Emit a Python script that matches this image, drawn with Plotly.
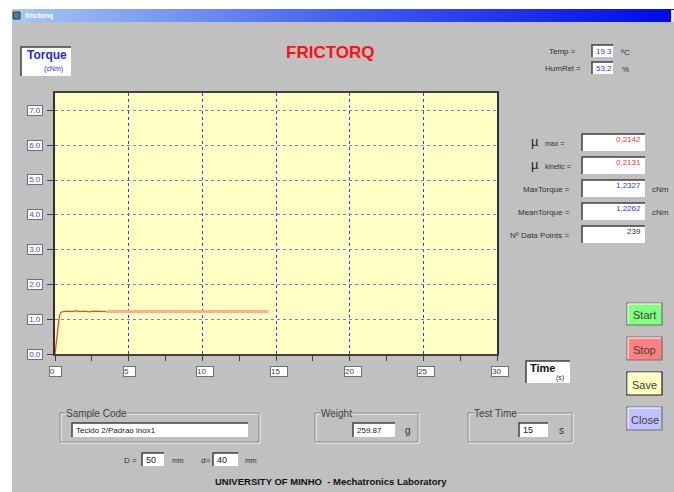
import plotly.graph_objects as go

# ---------------- data ----------------
time_s = [0, 0.08, 0.17, 0.25, 0.33, 0.42, 0.55, 0.8, 1.1, 1.4, 1.7, 2.0, 2.3,
          2.6, 2.9, 3.2, 3.5, 3.8, 5.0, 7.0, 9.0, 11.0, 13.0, 14.5]
torque = [0, 0.25, 0.62, 0.95, 1.13, 1.20, 1.22, 1.23, 1.22, 1.24, 1.22, 1.23, 1.21,
          1.23, 1.22, 1.23, 1.22, 1.22, 1.22, 1.23, 1.22, 1.22, 1.22, 1.22]
split_idx = 16  # where the lighter trace segment begins

x_ticks = [0, 5, 10, 15, 20, 25, 30]
x_tick_labels = ["0", "5", "10", "15", "20", "25", "30"]
y_ticks = [0, 1, 2, 3, 4, 5, 6, 7]
y_tick_labels = ["0.0", "1.0", "2.0", "3.0", "4.0", "5.0", "6.0", "7.0"]

temp = "19.3"
humrel = "53.2"
mu_max = "0,2142"
mu_kinetic = "0,2131"
max_torque = "1,2327"
mean_torque = "1,2262"
n_points = "239"
sample_code = "Tecido 2/Padrao inox1"
weight = "259.87"
test_time = "15"
D_mm = "50"
d_mm = "40"

# ---------------- layout helpers ----------------
W, H = 674, 492
GRAY = "#c0c0c0"
FONT = "Liberation Sans, Arial, sans-serif"
shapes = []
anns = []


def rect(x0, y0, x1, y1, fill, line=None, lw=0):
    shapes.append(dict(type="rect", xref="x2", yref="y2", x0=x0, y0=y0, x1=x1, y1=y1,
                       fillcolor=fill, line=dict(color=line or fill, width=lw),
                       layer="above"))


def path(p, color, lw=1):
    shapes.append(dict(type="path", xref="x2", yref="y2", path=p,
                       line=dict(color=color, width=lw), layer="above"))


def text(x, y, s, size=9, color="#202020", xanchor="left", bold=False, bg=None):
    a = dict(xref="x2", yref="y2", x=x, y=y, text=("<b>%s</b>" % s) if bold else s,
             showarrow=False, xanchor=xanchor, yanchor="middle",
             font=dict(family=FONT, size=size, color=color))
    if bg:
        a["bgcolor"] = bg
        a["borderpad"] = 0
    anns.append(a)


def sunken(x0, y0, x1, y1):
    rect(x0, y0, x1, y1, "white")
    path("M %s,%s L %s,%s L %s,%s" % (x0, y1, x0, y0, x1, y0), "#404040", 1.5)


def button(x0, y0, x1, y1, fill, label, focus=False):
    rect(x0, y0, x1, y1, fill, "#707070" if not focus else "#202020", 1.2)
    path("M %s,%s L %s,%s L %s,%s" % (x0 + 1, y1 - 1, x0 + 1, y0 + 1, x1 - 1, y0 + 1), "white", 1)
    text((x0 + x1) / 2, (y0 + y1) / 2 + 1, label, size=11, color="#404040", xanchor="center")


def frame(x0, y0, x1, y1, label):
    rect(x0 + 1, y0 + 1, x1 + 1, y1 + 1, "rgba(0,0,0,0)", "white", 1)
    rect(x0, y0, x1, y1, "rgba(0,0,0,0)", "#8a8a8a", 1)
    text(x0 + 5, y0, label, size=10, color="#404040", bg=GRAY)


# window chrome
rect(0, 0, W, 9, "white")
rect(0, 0, 12, H, "white")
rect(671, 10, 674, 22, "#e8e8e8")

# Torque label box
sunken(21, 47, 71, 76)
text(25, 55, "Torque", size=12, color="#2828e0", bold=True)
text(42, 69, "(cNm)", size=7, color="#2828e0")

# Title
text(330, 52, "FRICTORQ", size=17, color="#ff1010", xanchor="center", bold=True)

# Temp / HumRel
text(578, 51, "Temp =", size=8, color="#303030", xanchor="right")
sunken(592, 45, 613, 57)
text(594, 51, temp, size=8, color="#3030ff")
text(619, 52, "ºC", size=8, color="#303030")
text(583, 68, "HumRel =", size=8, color="#303030", xanchor="right")
sunken(592, 62, 613, 74)
text(594, 68, humrel, size=8, color="#3030ff")
text(620, 69, "%", size=8, color="#303030")

# Results panel
res_rows = [
    (134, 151, "max =", mu_max, "#ff3030", True, False),
    (157, 174, "kinetic =", mu_kinetic, "#ff3030", True, False),
    (180, 197, "MaxTorque =", max_torque, "#3030ff", False, True),
    (203, 220, "MeanTorque =", mean_torque, "#3030ff", False, True),
    (226, 243, "Nº Data Points =", n_points, "#303030", False, False),
]
for y0, y1, lab, val, col, is_mu, unit in res_rows:
    yc = (y0 + y1) / 2
    sunken(582, y0, 645, y1)
    text(643, yc - 3, val, size=8, color=col, xanchor="right")
    if is_mu:
        text(535, yc - 1, "µ", size=13, color="#202020", xanchor="center")
        text(543, yc + 1, lab, size=7, color="#303030")
    else:
        text(572, yc + 1, lab, size=8, color="#303030", xanchor="right")
    if unit:
        text(650, yc + 1, "cNm", size=8, color="#303030")

# Buttons
button(627, 303, 662, 325, "#80ff80", "Start")
button(627, 337, 662, 360, "#ff8080", "Stop")
button(627, 372, 662, 395, "#ffffc0", "Save", focus=True)
button(627, 407, 662, 430, "#c0c0ff", "Close")

# Time box
sunken(526, 361, 570, 383)
text(528, 368, "Time", size=11, color="#101010", bold=True)
text(554, 378, "(s)", size=7, color="#303030")

# Bottom group frames
frame(60, 413, 259, 442, "Sample Code")
sunken(72, 423, 248, 437)
text(74, 430, sample_code, size=8, color="#202020")

frame(315, 413, 418, 442, "Weight")
sunken(353, 423, 395, 437)
text(355, 430, weight, size=8, color="#202020")
text(403, 430, "g", size=10, color="#303030")

frame(468, 413, 572, 442, "Test Time")
sunken(519, 423, 548, 437)
text(521, 430, test_time, size=9, color="#202020")
text(557, 430, "s", size=10, color="#303030")

text(139, 460, "D =", size=8, color="#303030", xanchor="right")
sunken(142, 453, 164, 466)
text(144, 459.5, D_mm, size=9, color="#202020")
text(170, 460, "mm", size=7, color="#303030")
text(212, 460, "d=", size=8, color="#303030", xanchor="right")
sunken(213, 453, 238, 466)
text(215, 459.5, d_mm, size=9, color="#202020")
text(243, 460, "mm", size=7, color="#303030")

text(213, 481, "UNIVERSITY OF MINHO&nbsp;&nbsp;- Mechatronics Laboratory", size=9.5,
     color="#101010", bold=True)

# Title bar text + icon
rect(13, 12, 20, 19, "#508080", "#304040", 1)
text(23, 15.5, "frictorq", size=8, color="white", bold=True)

# yellow plot area
shapes.append(dict(type="rect", xref="x", yref="y", x0=0, x1=30, y0=0, y1=7.5,
                   fillcolor="#ffffc4", line=dict(width=0), layer="below"))

# tick label boxes
for v, lab in zip(x_ticks, x_tick_labels):
    anns.append(dict(xref="x", yref="y2", x=v, y=371.5, xshift=-6, text=lab,
                     showarrow=False, xanchor="left", yanchor="middle",
                     width=6 + 5 * len(lab), height=9, align="left",
                     bgcolor="white", bordercolor="#707070", borderwidth=1, borderpad=0,
                     font=dict(family=FONT, size=8, color="#404040")))
for v, lab in zip(y_ticks, y_tick_labels):
    anns.append(dict(xref="x2", yref="y", x=35, y=v, text=lab,
                     showarrow=False, xanchor="center", yanchor="middle",
                     width=14, height=9, bgcolor="white", bordercolor="#707070",
                     borderwidth=1, borderpad=0,
                     font=dict(family=FONT, size=8, color="#4040ff")))

# ---------------- traces ----------------
fig = go.Figure()
fig.add_trace(go.Scatter(x=[12, 674, 674, 12, 12], y=[9, 9, 22, 22, 9], xaxis="x2", yaxis="y2",
                         fill="toself", mode="none", hoverinfo="skip",
                         fillgradient=dict(type="horizontal",
                                           colorscale=[[0, "#a8c8f4"], [0.5, "#4060f0"],
                                                       [1, "#0008e8"]])))
fig.add_trace(go.Scatter(x=time_s[:split_idx + 1], y=torque[:split_idx + 1], mode="lines",
                         line=dict(color="#f04a2a", width=1.3), hoverinfo="skip"))
fig.add_trace(go.Scatter(x=time_s[split_idx:], y=torque[split_idx:], mode="lines",
                         line=dict(color="#ffb088", width=3), hoverinfo="skip"))

fig.update_layout(
    width=W, height=H, margin=dict(l=0, r=0, t=0, b=0, pad=0),
    paper_bgcolor=GRAY, plot_bgcolor="rgba(0,0,0,0)", showlegend=False,
    xaxis=dict(domain=[55 / W, 497 / W], range=[0, 30], tickvals=x_ticks,
               showticklabels=False, ticks="outside", ticklen=5, tickcolor="#404040",
               minor=dict(dtick=2.5, tick0=0, ticks="outside", ticklen=5,
                          tickcolor="#404040", showgrid=False),
               showgrid=True, gridcolor="#3a3aee", griddash="dot", gridwidth=1,
               zeroline=False, showline=True, linecolor="#404040", linewidth=2,
               mirror=True, fixedrange=True),
    yaxis=dict(domain=[(H - 354) / H, (H - 93) / H], range=[0, 7.5], tickvals=y_ticks,
               showticklabels=False, ticks="outside", ticklen=6, tickcolor="#404040",
               showgrid=True, gridcolor="#7a7ad8", griddash="dot", gridwidth=1,
               zeroline=False, showline=True, linecolor="#303030", linewidth=2,
               mirror=True, fixedrange=True),
    xaxis2=dict(domain=[0, 1], range=[0, W], visible=False, fixedrange=True),
    yaxis2=dict(domain=[0, 1], range=[H, 0], visible=False, fixedrange=True),
    shapes=shapes, annotations=anns,
)

fig.write_html(
    "out.html",
    config={"displayModeBar": False},
    post_script="document.body.style.margin='0px';"
                "document.documentElement.style.overflow='hidden';"
                "document.body.style.overflow='hidden';",
)
